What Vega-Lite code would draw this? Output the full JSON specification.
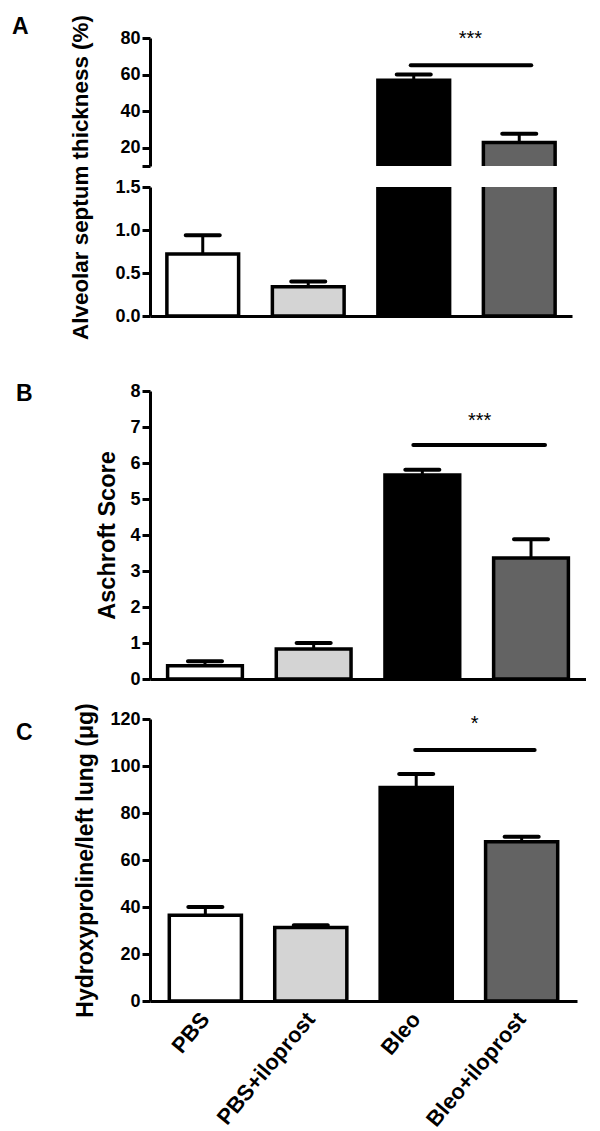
{
  "$schema": "https://vega.github.io/schema/vega-lite/v6.json",
  "padding": {"left": 12, "top": 14, "right": 0, "bottom": 0},
  "autosize": {"type": "pad"},
  "background": "white",
  "datasets": {
    "bars": [
      {"panel": "A", "group": "PBS", "mean": 0.72, "upper": 0.94},
      {"panel": "A", "group": "PBS+iloprost", "mean": 0.34, "upper": 0.40},
      {"panel": "A", "group": "Bleo", "mean": 56.9, "upper": 60.0},
      {"panel": "A", "group": "Bleo+iloprost", "mean": 22.8, "upper": 27.7},
      {"panel": "B", "group": "PBS", "mean": 0.37, "upper": 0.49},
      {"panel": "B", "group": "PBS+iloprost", "mean": 0.83, "upper": 1.0},
      {"panel": "B", "group": "Bleo", "mean": 5.67, "upper": 5.81},
      {"panel": "B", "group": "Bleo+iloprost", "mean": 3.36, "upper": 3.88},
      {"panel": "C", "group": "PBS", "mean": 36.5, "upper": 40.0},
      {"panel": "C", "group": "PBS+iloprost", "mean": 31.3, "upper": 32.2},
      {"panel": "C", "group": "Bleo", "mean": 90.8, "upper": 96.6},
      {"panel": "C", "group": "Bleo+iloprost", "mean": 67.8, "upper": 69.9}
    ],
    "sig": [
      {"panel": "A", "from": "Bleo", "to": "Bleo+iloprost", "line": 65.1, "label": "***", "labelAt": 76},
      {"panel": "B", "from": "Bleo", "to": "Bleo+iloprost", "line": 6.5, "label": "***", "labelAt": 7.0},
      {"panel": "C", "from": "Bleo", "to": "Bleo+iloprost", "line": 106.8, "label": "*", "labelAt": 115.3}
    ]
  },
  "config": {
    "view": {"stroke": null},
    "font": "Liberation Sans",
    "tick": {"opacity": 1},
    "axis": {
      "domainColor": "black", "domainWidth": 3, "tickColor": "black", "tickWidth": 3, "tickSize": 8,
      "labelFont": "Liberation Sans", "labelFontSize": 18, "labelFontWeight": "bold", "labelColor": "black", "labelPadding": 2, "labelOverlap": false, "labelSeparation": 0,
      "titleFont": "Liberation Sans", "titleFontSize": 23, "titleFontWeight": "bold", "titleColor": "black", "grid": false
    }
  },
  "spacing": 42,
  "vconcat": [
    {
      "bounds": "flush",
      "spacing": 21,
      "vconcat": [
        {
          "width": 422, "height": 128,
          "title": {"text": "A", "anchor": "start", "frame": "group", "dx": -138, "dy": 10, "offset": 0, "fontSize": 23, "fontWeight": "bold", "font": "Liberation Sans", "color": "black"},
          "layer": [
            {
              "data": {"name": "bars"}, "transform": [{"filter": "datum.panel == 'A'"}],
              "mark": {"type": "bar", "clip": true, "stroke": "black", "strokeWidth": 3.5},
              "encoding": {
                "x": {"field": "group", "type": "nominal", "scale": {"domain": ["PBS", "PBS+iloprost", "Bleo", "Bleo+iloprost"], "paddingInner": 0.32, "paddingOuter": 0.16}, "axis": null},
                "y": {"field": "mean", "type": "quantitative", "scale": {"domain": [10, 80], "nice": false, "zero": false}, "axis": {"values": [10, 20, 40, 60, 80], "labelExpr": "datum.value == 10 ? '' : datum.label", "labelOverlap": false, "title": null}},
                "y2": {"datum": 0},
                "fill": {"field": "group", "type": "nominal", "scale": {"domain": ["PBS", "PBS+iloprost", "Bleo", "Bleo+iloprost"], "range": ["#ffffff", "#d4d4d4", "#000000", "#636363"]}, "legend": null}
              }
            },
            {
              "data": {"name": "bars"}, "transform": [{"filter": "datum.panel == 'A'"}],
              "mark": {"type": "rule", "clip": true, "strokeWidth": 3, "color": "black"},
              "encoding": {"x": {"field": "group", "type": "nominal", "axis": null}, "y": {"field": "mean", "type": "quantitative", "axis": {"values": [10, 20, 40, 60, 80], "labelExpr": "datum.value == 10 ? '' : datum.label", "labelOverlap": false, "title": null}}, "y2": {"field": "upper"}}
            },
            {
              "data": {"name": "bars"}, "transform": [{"filter": "datum.panel == 'A'"}],
              "mark": {"type": "tick", "clip": true, "size": 38, "thickness": 4, "color": "black", "opacity": 1, "cornerRadius": 2},
              "encoding": {"x": {"field": "group", "type": "nominal", "axis": null}, "y": {"field": "upper", "type": "quantitative", "axis": {"values": [10, 20, 40, 60, 80], "labelExpr": "datum.value == 10 ? '' : datum.label", "labelOverlap": false, "title": null}}}
            },
            {
              "data": {"name": "sig"}, "transform": [{"filter": "datum.panel == 'A'"}],
              "mark": {"type": "rule", "strokeWidth": 4, "strokeCap": "round", "color": "black", "xOffset": -3, "x2Offset": 12},
              "encoding": {"x": {"field": "from", "type": "nominal", "axis": null}, "x2": {"field": "to"}, "y": {"field": "line", "type": "quantitative", "axis": {"values": [10, 20, 40, 60, 80], "labelExpr": "datum.value == 10 ? '' : datum.label", "labelOverlap": false, "title": null}}}
            },
            {
              "data": {"name": "sig"}, "transform": [{"filter": "datum.panel == 'A'"}],
              "mark": {"type": "text", "fontSize": 20, "dx": -13, "align": "center", "baseline": "alphabetic", "color": "black"},
              "encoding": {"x": {"field": "to", "type": "nominal", "bandPosition": 0, "axis": null}, "y": {"field": "labelAt", "type": "quantitative", "axis": {"values": [10, 20, 40, 60, 80], "labelExpr": "datum.value == 10 ? '' : datum.label", "labelOverlap": false, "title": null}}, "text": {"field": "label"}}
            }
          ]
        },
        {
          "width": 422, "height": 129,
          "layer": [
            {
              "data": {"name": "bars"}, "transform": [{"filter": "datum.panel == 'A'"}],
              "mark": {"type": "bar", "clip": true, "stroke": "black", "strokeWidth": 3.5},
              "encoding": {
                "x": {"field": "group", "type": "nominal", "scale": {"domain": ["PBS", "PBS+iloprost", "Bleo", "Bleo+iloprost"], "paddingInner": 0.32, "paddingOuter": 0.16}, "axis": {"labels": false, "ticks": false, "title": null}},
                "y": {"field": "mean", "type": "quantitative", "scale": {"domain": [0, 1.5], "nice": false}, "axis": {"values": [0, 0.5, 1, 1.5], "format": ".1f", "labelOverlap": false, "title": "Alveolar septum thickness (%)", "titleFontSize": 22.4, "titlePadding": 22, "titleY": -10}},
                "fill": {"field": "group", "type": "nominal", "scale": {"domain": ["PBS", "PBS+iloprost", "Bleo", "Bleo+iloprost"], "range": ["#ffffff", "#d4d4d4", "#000000", "#636363"]}, "legend": null}
              }
            },
            {
              "data": {"name": "bars"}, "transform": [{"filter": "datum.panel == 'A'"}],
              "mark": {"type": "rule", "clip": true, "strokeWidth": 3, "color": "black"},
              "encoding": {"x": {"field": "group", "type": "nominal", "axis": {"labels": false, "ticks": false, "title": null}}, "y": {"field": "mean", "type": "quantitative", "axis": {"values": [0, 0.5, 1, 1.5], "format": ".1f", "labelOverlap": false, "title": "Alveolar septum thickness (%)", "titleFontSize": 22.4, "titlePadding": 22, "titleY": -10}}, "y2": {"field": "upper"}}
            },
            {
              "data": {"name": "bars"}, "transform": [{"filter": "datum.panel == 'A'"}],
              "mark": {"type": "tick", "clip": true, "size": 38, "thickness": 4, "color": "black", "opacity": 1, "cornerRadius": 2},
              "encoding": {"x": {"field": "group", "type": "nominal", "axis": {"labels": false, "ticks": false, "title": null}}, "y": {"field": "upper", "type": "quantitative", "axis": {"values": [0, 0.5, 1, 1.5], "format": ".1f", "labelOverlap": false, "title": "Alveolar septum thickness (%)", "titleFontSize": 22.4, "titlePadding": 22, "titleY": -10}}}
            }
          ]
        }
      ]
    },
    {
      "spacing": 14,
      "vconcat": [
        {
          "width": 436, "height": 288,
          "title": {"text": "B", "anchor": "start", "frame": "group", "dx": -134, "dy": 24, "offset": 0, "fontSize": 23, "fontWeight": "bold", "font": "Liberation Sans", "color": "black"},
          "layer": [
            {
              "data": {"name": "bars"}, "transform": [{"filter": "datum.panel == 'B'"}],
              "mark": {"type": "bar", "stroke": "black", "strokeWidth": 3.5},
              "encoding": {
                "x": {"field": "group", "type": "nominal", "scale": {"domain": ["PBS", "PBS+iloprost", "Bleo", "Bleo+iloprost"], "paddingInner": 0.312, "paddingOuter": 0.162}, "axis": {"labels": false, "ticks": false, "title": null}},
                "y": {"field": "mean", "type": "quantitative", "scale": {"domain": [0, 8], "nice": false}, "axis": {"values": [0, 1, 2, 3, 4, 5, 6, 7, 8], "labelOverlap": false, "title": "Aschroft Score", "titleFontSize": 23.5, "titlePadding": 10}},
                "fill": {"field": "group", "type": "nominal", "scale": {"domain": ["PBS", "PBS+iloprost", "Bleo", "Bleo+iloprost"], "range": ["#ffffff", "#d4d4d4", "#000000", "#636363"]}, "legend": null}
              }
            },
            {
              "data": {"name": "bars"}, "transform": [{"filter": "datum.panel == 'B'"}],
              "mark": {"type": "rule", "strokeWidth": 3, "color": "black"},
              "encoding": {"x": {"field": "group", "type": "nominal", "axis": {"labels": false, "ticks": false, "title": null}}, "y": {"field": "mean", "type": "quantitative", "axis": {"values": [0, 1, 2, 3, 4, 5, 6, 7, 8], "labelOverlap": false, "title": "Aschroft Score", "titleFontSize": 23.5, "titlePadding": 10}}, "y2": {"field": "upper"}}
            },
            {
              "data": {"name": "bars"}, "transform": [{"filter": "datum.panel == 'B'"}],
              "mark": {"type": "tick", "size": 38, "thickness": 4, "color": "black", "opacity": 1, "cornerRadius": 2},
              "encoding": {"x": {"field": "group", "type": "nominal", "axis": {"labels": false, "ticks": false, "title": null}}, "y": {"field": "upper", "type": "quantitative", "axis": {"values": [0, 1, 2, 3, 4, 5, 6, 7, 8], "labelOverlap": false, "title": "Aschroft Score", "titleFontSize": 23.5, "titlePadding": 10}}}
            },
            {
              "data": {"name": "sig"}, "transform": [{"filter": "datum.panel == 'B'"}],
              "mark": {"type": "rule", "strokeWidth": 4, "strokeCap": "round", "color": "black", "xOffset": -9, "x2Offset": 14},
              "encoding": {"x": {"field": "from", "type": "nominal", "axis": {"labels": false, "ticks": false, "title": null}}, "x2": {"field": "to"}, "y": {"field": "line", "type": "quantitative", "axis": {"values": [0, 1, 2, 3, 4, 5, 6, 7, 8], "labelOverlap": false, "title": "Aschroft Score", "titleFontSize": 23.5, "titlePadding": 10}}}
            },
            {
              "data": {"name": "sig"}, "transform": [{"filter": "datum.panel == 'B'"}],
              "mark": {"type": "text", "fontSize": 20, "dx": -14, "align": "center", "baseline": "alphabetic", "color": "black"},
              "encoding": {"x": {"field": "to", "type": "nominal", "bandPosition": 0, "axis": {"labels": false, "ticks": false, "title": null}}, "y": {"field": "labelAt", "type": "quantitative", "axis": {"values": [0, 1, 2, 3, 4, 5, 6, 7, 8], "labelOverlap": false, "title": "Aschroft Score", "titleFontSize": 23.5, "titlePadding": 10}}, "text": {"field": "label"}}
            }
          ]
        },
        {
          "width": 427, "height": 282,
          "title": {"text": "C", "anchor": "start", "frame": "group", "dx": -134, "dy": 42, "offset": 0, "fontSize": 23, "fontWeight": "bold", "font": "Liberation Sans", "color": "black"},
          "layer": [
            {
              "data": {"name": "bars"}, "transform": [{"filter": "datum.panel == 'C'"}],
              "mark": {"type": "bar", "stroke": "black", "strokeWidth": 3.5},
              "encoding": {
                "x": {"field": "group", "type": "nominal", "scale": {"domain": ["PBS", "PBS+iloprost", "Bleo", "Bleo+iloprost"], "paddingInner": 0.316, "paddingOuter": 0.183}, "axis": {"labelAngle": -50, "ticks": false, "labelPadding": 14, "labelFontSize": 22, "title": null}},
                "y": {"field": "mean", "type": "quantitative", "scale": {"domain": [0, 120], "nice": false}, "axis": {"values": [0, 20, 40, 60, 80, 100, 120], "labelOverlap": false, "title": "Hydroxyproline/left lung (μg)", "titleFontSize": 23, "titlePadding": 12}},
                "fill": {"field": "group", "type": "nominal", "scale": {"domain": ["PBS", "PBS+iloprost", "Bleo", "Bleo+iloprost"], "range": ["#ffffff", "#d4d4d4", "#000000", "#636363"]}, "legend": null}
              }
            },
            {
              "data": {"name": "bars"}, "transform": [{"filter": "datum.panel == 'C'"}],
              "mark": {"type": "rule", "strokeWidth": 3, "color": "black"},
              "encoding": {"x": {"field": "group", "type": "nominal", "axis": {"labelAngle": -50, "ticks": false, "labelPadding": 14, "labelFontSize": 22, "title": null}}, "y": {"field": "mean", "type": "quantitative", "axis": {"values": [0, 20, 40, 60, 80, 100, 120], "labelOverlap": false, "title": "Hydroxyproline/left lung (μg)", "titleFontSize": 23, "titlePadding": 12}}, "y2": {"field": "upper"}}
            },
            {
              "data": {"name": "bars"}, "transform": [{"filter": "datum.panel == 'C'"}],
              "mark": {"type": "tick", "size": 38, "thickness": 4, "color": "black", "opacity": 1, "cornerRadius": 2},
              "encoding": {"x": {"field": "group", "type": "nominal", "axis": {"labelAngle": -50, "ticks": false, "labelPadding": 14, "labelFontSize": 22, "title": null}}, "y": {"field": "upper", "type": "quantitative", "axis": {"values": [0, 20, 40, 60, 80, 100, 120], "labelOverlap": false, "title": "Hydroxyproline/left lung (μg)", "titleFontSize": 23, "titlePadding": 12}}}
            },
            {
              "data": {"name": "sig"}, "transform": [{"filter": "datum.panel == 'C'"}],
              "mark": {"type": "rule", "strokeWidth": 4, "strokeCap": "round", "color": "black", "xOffset": -1, "x2Offset": 13},
              "encoding": {"x": {"field": "from", "type": "nominal", "axis": {"labelAngle": -50, "ticks": false, "labelPadding": 14, "labelFontSize": 22, "title": null}}, "x2": {"field": "to"}, "y": {"field": "line", "type": "quantitative", "axis": {"values": [0, 20, 40, 60, 80, 100, 120], "labelOverlap": false, "title": "Hydroxyproline/left lung (μg)", "titleFontSize": 23, "titlePadding": 12}}}
            },
            {
              "data": {"name": "sig"}, "transform": [{"filter": "datum.panel == 'C'"}],
              "mark": {"type": "text", "fontSize": 20, "dx": -11, "align": "center", "baseline": "alphabetic", "color": "black"},
              "encoding": {"x": {"field": "to", "type": "nominal", "bandPosition": 0, "axis": {"labelAngle": -50, "ticks": false, "labelPadding": 14, "labelFontSize": 22, "title": null}}, "y": {"field": "labelAt", "type": "quantitative", "axis": {"values": [0, 20, 40, 60, 80, 100, 120], "labelOverlap": false, "title": "Hydroxyproline/left lung (μg)", "titleFontSize": 23, "titlePadding": 12}}, "text": {"field": "label"}}
            }
          ]
        }
      ]
    }
  ]
}
